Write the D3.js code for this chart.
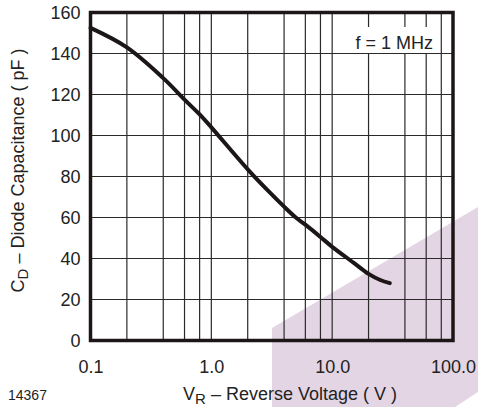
<!DOCTYPE html>
<html lang="en">
<head>
<meta charset="UTF-8">
<title>Diode Capacitance</title>
<style>
    * { margin: 0; padding: 0; }
    body { background: #ffffff; width: 478px; height: 407px; overflow: hidden; }
    text { font-family: "Liberation Sans", Arial, Helvetica, sans-serif; fill: #222; }
</style>
<script src="https://cdn.jsdelivr.net/npm/d3@7"></script>
</head>
<body>
<div id="chart"></div>
<script>
"use strict";

// reverse voltage (V) and capacitance (pF)
var voltage = [0.1, 0.2, 0.4, 0.6, 0.8, 1.0, 2.0, 3.0, 4.0, 5.0, 6.0, 8.0, 10, 15, 20, 25, 30];
var capacitance = [152.5, 143, 128, 117.5, 110.3, 104, 83.5, 72.6, 65.3, 60, 56.5, 50.5, 45.7, 38, 32.5, 29.5, 28];

var xTicks = [0.1, 1, 10, 100];
var xTickLabels = ["0.1", "1.0", "10.0", "100.0"];
var xGrid = [0.2, 0.4, 0.6, 0.8, 1, 2, 4, 6, 8, 10, 20, 40, 60, 80];
var yTicks = [0, 20, 40, 60, 80, 100, 120, 140, 160];

var width = 478, height = 407;
var margin = { top: 12.5, right: 25, bottom: 66.5, left: 90.5 };

var svg = d3.select("#chart").append("svg")
    .attr("width", width)
    .attr("height", height);

// lilac watermark in the lower right corner
svg.append("polygon")
    .attr("points", [[272, 328], [478, 207], [478, 392], [455, 407], [272, 407]].join(" "))
    .attr("fill", "#e4d5e5");

var x = d3.scaleLog().domain([0.1, 100]).range([margin.left, width - margin.right]);
var y = d3.scaleLinear().domain([0, 160]).range([height - margin.bottom, margin.top]);

var g = svg.append("g");

// grid
g.selectAll("line.vgrid").data(xGrid).enter().append("line")
    .attr("class", "vgrid")
    .attr("x1", d => x(d)).attr("x2", d => x(d))
    .attr("y1", y(160)).attr("y2", y(0))
    .attr("stroke", "#2a2a2a").attr("stroke-width", 1.2);

g.selectAll("line.hgrid").data(yTicks.slice(1, -1)).enter().append("line")
    .attr("class", "hgrid")
    .attr("x1", x(0.1)).attr("x2", x(100))
    .attr("y1", d => y(d)).attr("y2", d => y(d))
    .attr("stroke", "#2a2a2a").attr("stroke-width", 1.2);

// frequency note on a white patch
g.append("rect")
    .attr("x", 345).attr("y", 27)
    .attr("width", 91).attr("height", 26)
    .attr("fill", "#ffffff");
g.append("text")
    .attr("x", 433).attr("y", 49)
    .attr("text-anchor", "end")
    .attr("font-size", 18)
    .text("f = 1 MHz");

// curve
var line = d3.line()
    .x((d, i) => x(voltage[i]))
    .y(d => y(d))
    .curve(d3.curveCatmullRom.alpha(0.5));

g.append("path")
    .datum(capacitance)
    .attr("d", line)
    .attr("fill", "none")
    .attr("stroke", "#1c1619")
    .attr("stroke-width", 4)
    .attr("stroke-linecap", "round")
    .attr("stroke-linejoin", "round");

// frame
g.append("rect")
    .attr("x", x(0.1)).attr("y", y(160))
    .attr("width", x(100) - x(0.1))
    .attr("height", y(0) - y(160))
    .attr("fill", "none")
    .attr("stroke", "#1c1619")
    .attr("stroke-width", 3.5);

// axes labels (no tick marks)
var xAxis = d3.axisBottom(x).tickValues(xTicks)
    .tickFormat((d, i) => xTickLabels[i]).tickSize(0).tickPadding(20);
var yAxis = d3.axisLeft(y).tickValues(yTicks).tickSize(0).tickPadding(10);

var ax = svg.append("g").attr("transform", `translate(0, ${y(0)})`).call(xAxis);
var ay = svg.append("g").attr("transform", `translate(${x(0.1)}, 0)`).call(yAxis);
[ax, ay].forEach(a => {
    a.select(".domain").remove();
    a.selectAll("text")
        .attr("font-size", 18)
        .attr("font-family", "'Liberation Sans', Arial, sans-serif")
        .attr("fill", "#222");
});

// titles
var xt = svg.append("text")
    .attr("x", 290).attr("y", 400)
    .attr("text-anchor", "middle")
    .attr("font-size", 18);
xt.append("tspan").text("V");
xt.append("tspan").attr("font-size", 15).attr("dy", 4).text("R");
xt.append("tspan").attr("dy", -4).text(" \u2013 Reverse Voltage ( V )");

var yt = svg.append("text")
    .attr("transform", `translate(24, ${(y(0) + y(160)) / 2 - 6}) rotate(-90)`)
    .attr("text-anchor", "middle")
    .attr("font-size", 18);
yt.append("tspan").text("C");
yt.append("tspan").attr("font-size", 15).attr("dy", 4).text("D");
yt.append("tspan").attr("dy", -4).text(" \u2013 Diode Capacitance ( pF )");

svg.append("text")
    .attr("x", 8).attr("y", 400)
    .attr("font-size", 14)
    .text("14367");
</script>
</body>
</html>
